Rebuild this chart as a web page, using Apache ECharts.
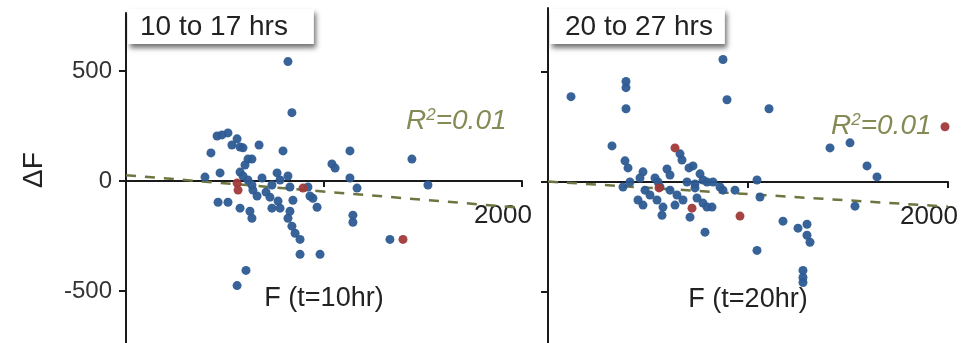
<!DOCTYPE html>
<html>
<head>
    <meta charset="utf-8">
    <script src="https://cdn.jsdelivr.net/npm/echarts@6/dist/echarts.min.js"></script>
    <title>dF vs F</title>
    <style>
        * { margin: 0; padding: 0; }
        body { background: #fff; }
        #view { width: 976px; height: 343px; }
    </style>
</head>
<body>
    <div id="view"></div>
    <script>
        // panel titles + axis names
        var panelTitles = ['10 to 17 hrs', '20 to 27 hrs'];
        var xNames = ['F (t=10hr)', 'F (t=20hr)'];
        var yName = 'ΔF';
        var yTicks = [-500, 0, 500];
        var xTicks = [1000, 2000];
        var xTickLabels = [2000];
        var r2Text = '0.01';

        // 10 to 17 hrs : [F, dF]
        var early = [
            [818, 543], [838, 311], [460, 205], [485, 210], [515, 219], [561, 192], [535, 164], [576, 155],
            [591, 151], [429, 128], [672, 164], [793, 137], [1131, 137], [616, 100], [636, 100], [1040, 78],
            [1056, 59], [1444, 100], [399, 18], [475, 37], [576, 41], [591, 23], [763, 37], [818, 23],
            [778, 5], [616, 5], [636, -18], [641, -41], [662, -68], [737, -18], [828, -27], [919, -27],
            [1131, 14], [1167, -32], [1525, -18], [465, -96], [515, -96], [576, -123], [626, -137], [636, -169],
            [727, -73], [768, -91], [737, -123], [778, -123], [828, -137], [818, -169], [843, -87], [944, -78],
            [965, -119], [1146, -155], [1146, -187], [854, -237], [879, -265], [879, -333], [980, -333], [1333, -265],
            [606, -406], [561, -475], [929, -68], [687, 14], [707, -50], [601, 73], [838, -205]
        ];
        var earlyRed = [[561, -9], [566, -41], [894, -32], [1399, -265]];
        var earlyFit = [[0, 27], [2000, -122]];

        // 20 to 27 hrs : [F, dF]
        var late = [
            [875, 557], [115, 388], [390, 457], [390, 429], [390, 333], [895, 374], [1105, 333], [320, 164],
            [660, 128], [670, 100], [385, 96], [400, 64], [475, 46], [595, 59], [610, 32], [705, 64],
            [725, 73], [760, 37], [775, 9], [410, 0], [375, -23], [535, 18], [560, -23], [485, -37],
            [450, -82], [475, -105], [545, -82], [575, -114], [570, -151], [645, -59], [675, -82], [735, -9],
            [795, 0], [745, -73], [775, -96], [710, -160], [785, -228], [695, 0], [735, -27], [825, 0],
            [860, -23], [875, -37], [935, -37], [795, -114], [820, -114], [1045, 9], [1060, -68], [1175, -178],
            [1250, -210], [1295, -192], [1295, -242], [1310, -274], [1045, -311], [1275, -402], [1275, -434], [1275, -457],
            [1410, 155], [1510, 178], [1595, 73], [1645, 23], [1535, -110], [550, 0], [510, -59], [610, -37],
            [460, 18], [635, -105]
        ];
        var lateRed = [[635, 155], [720, -119], [960, -155], [1985, 251], [555, -27]];
        var lateFit = [[0, 2], [2000, -112]];

        var font = 'Liberation Sans, Arial, sans-serif';
        var blue = '#2d5b94';
        var red = '#a13a3a';
        var olive = '#6f7540';

        // grid layout: [top, height]
        var grids = [
            { left: 126, width: 396, top: 13, bottom: 0 },
            { left: 548, width: 400, top: 8, bottom: 0 }
        ];
        var yRanges = [[-736, 764], [-732, 791]];

        function yAxisOf(idx) {
            return {
                type: 'value', gridIndex: idx, min: yRanges[idx][0], max: yRanges[idx][1],
                name: idx === 0 ? yName : '',
                nameLocation: 'middle', nameRotate: 90, nameGap: 78,
                nameTextStyle: { fontSize: 28, color: '#222', fontFamily: font, padding: [0, 0, 0, 16] },
                splitLine: { show: false },
                axisLine: { show: true, lineStyle: { color: '#1a1a1a', width: 2 } },
                axisTick: { show: true, length: 7, customValues: yTicks, lineStyle: { color: '#1a1a1a', width: 2 } },
                axisLabel: {
                    show: idx === 0, customValues: yTicks, margin: 14,
                    fontSize: 24, color: '#333', fontFamily: font,
                    formatter: function (v) { return String(v); }
                }
            };
        }

        function xAxisOf(idx) {
            // move the x axis up to dF = 0
            var r = yRanges[idx];
            var h = 343 - grids[idx].top;
            var zeroFromBottom = h * (0 - r[0]) / (r[1] - r[0]);
            return {
                type: 'value', gridIndex: idx, min: 0, max: 2000,
                position: 'bottom', offset: -zeroFromBottom,
                name: xNames[idx], nameLocation: 'middle', nameGap: 104,
                nameTextStyle: { fontSize: 27, color: '#222', fontFamily: font },
                splitLine: { show: false },
                axisLine: { onZero: false, lineStyle: { color: '#1a1a1a', width: 2 } },
                axisTick: { show: true, length: 6, customValues: xTicks, lineStyle: { color: '#1a1a1a', width: 2 } },
                axisLabel: {
                    customValues: xTickLabels, margin: 22, padding: [0, 38, 0, 0],
                    showMaxLabel: true,
                    fontSize: 26, color: '#222', fontFamily: font,
                    formatter: function (v) { return String(v); }
                }
            };
        }

        function titleOf(i, left, pad) {
            return {
                text: panelTitles[i], left: left, top: 9, padding: pad,
                backgroundColor: '#fff',
                shadowColor: 'rgba(0,0,0,0.55)', shadowBlur: 5, shadowOffsetX: 2, shadowOffsetY: 4,
                textStyle: { fontSize: 28, fontWeight: 'normal', color: '#222', fontFamily: font }
            };
        }

        function r2Of(left, top) {
            return {
                type: 'text', left: left, top: top, z: 20,
                style: {
                    text: '{a|R}{b|2}{a|=' + r2Text + '}',
                    rich: {
                        a: { fontSize: 28, fontStyle: 'italic', fill: '#858a55', fontFamily: font },
                        b: { fontSize: 17, fontStyle: 'italic', fill: '#858a55', fontFamily: font, verticalAlign: 'top', padding: [0, 0, 12, 0] }
                    }
                }
            };
        }

        function dots(idx, data, color) {
            return {
                type: 'scatter', xAxisIndex: idx, yAxisIndex: idx, data: data,
                symbolSize: 9, itemStyle: { color: color, opacity: 0.95 }, z: 3
            };
        }

        function fit(idx, data) {
            return {
                type: 'line', xAxisIndex: idx, yAxisIndex: idx, data: data,
                showSymbol: false, silent: true, z: 2,
                lineStyle: { color: olive, width: 2.5, type: [10, 9] }
            };
        }

        var view = echarts.init(document.getElementById('view'));
        var option = {
            backgroundColor: '#fff',
            animation: false,
            title: [titleOf(0, 128, [4, 26, 3, 12]), titleOf(1, 550, [4, 12, 3, 15])],
            grid: grids.map(function (g) {
                return { left: g.left, width: g.width, top: g.top, bottom: g.bottom, outerBoundsMode: 'none', containLabel: false };
            }),
            xAxis: [xAxisOf(0), xAxisOf(1)],
            yAxis: [yAxisOf(0), yAxisOf(1)],
            graphic: [r2Of(406, 107), r2Of(831, 112)],
            series: [
                fit(0, earlyFit), dots(0, early, blue), dots(0, earlyRed, red),
                fit(1, lateFit), dots(1, late, blue), dots(1, lateRed, red)
            ]
        };
        view.setOption(option);
    </script>
</body>
</html>
